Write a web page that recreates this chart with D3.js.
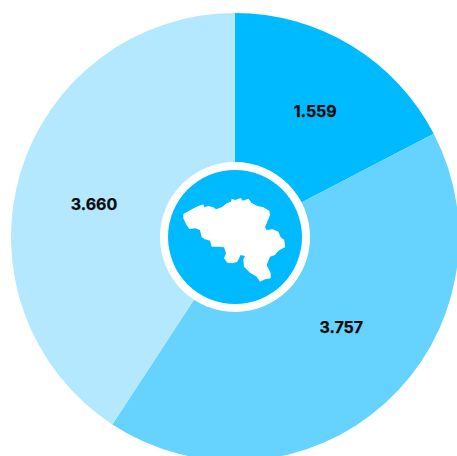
<!DOCTYPE html>
<html>
<head>
<meta charset="utf-8">
<script src="https://cdn.jsdelivr.net/npm/d3@7"></script>
<style>
html,body{margin:0;padding:0;background:#fff;overflow:hidden}
svg{display:block}
text{font-family:"Inter","Roboto",sans-serif;font-weight:700;font-size:16px;fill:#0a0a0a;stroke:#0a0a0a;stroke-width:0.25px}
</style>
</head>
<body>
<svg id="chart" width="457" height="456"></svg>
<script>
const categories = ["A", "B", "C"];
const values = [1559, 3757, 3660];
const valueLabels = ["1.559", "3.757", "3.660"];
const colors = ["#00baff", "#66d3ff", "#b3e8ff"];
const labelNudgeX = [5, 9, -2];
const labelNudgeY = [-2, -18, 8];

// Belgium silhouette, in a 510x510 icon space
const outlineX = [100,125,145,160,163,175,190,198,215,230,243,245,256,272,278,296,304,322,340,358,360,352,345,350,368,385,392,403,405,385,375,360,350,362,362,345,330,320,300,282,280,285,272,262,248,232,222,228,222,205,185,180,165,155,150,135,118,108,100];
const outlineY = [192,178,168,163,172,168,172,178,172,160,155,146,150,144,152,146,158,168,172,182,195,215,232,240,238,245,262,270,292,302,315,320,345,370,385,388,395,380,368,350,328,318,315,335,340,338,325,310,292,290,290,272,268,262,240,235,237,222,205];

const cx = 235, cy = 237, R = 224, ringR = 75, hubR = 67;
const svg = d3.select("#chart");
const g = svg.append("g").attr("transform", `translate(${cx},${cy})`);

const pie = d3.pie().sort(null).value((d, i) => values[i]);
const arcs = pie(categories);
const arc = d3.arc().innerRadius(0).outerRadius(R);
const labelArc = d3.arc().innerRadius(145).outerRadius(145);

g.selectAll("path.slice").data(arcs).join("path")
  .attr("class", "slice")
  .attr("d", arc)
  .attr("fill", (d, i) => colors[i]);

g.append("circle").attr("r", ringR).attr("fill", "#fff");
g.append("circle").attr("r", hubR).attr("fill", colors[0]);

const ix = d3.scaleLinear().domain([0, 510]).range([150, 320]);
const iy = d3.scaleLinear().domain([0, 510]).range([150, 320]);
const line = d3.line().x(d => ix(d[0])).y(d => iy(d[1])).curve(d3.curveLinearClosed);
svg.append("path")
  .attr("d", line(d3.zip(outlineX, outlineY)))
  .attr("fill", "#fff");

g.selectAll("text").data(arcs).join("text")
  .attr("text-anchor", "middle")
  .attr("dominant-baseline", "central")
  .attr("x", (d, i) => labelArc.centroid(d)[0] + labelNudgeX[i])
  .attr("y", (d, i) => labelArc.centroid(d)[1] + labelNudgeY[i])
  .text((d, i) => valueLabels[i]);
</script>
</body>
</html>
